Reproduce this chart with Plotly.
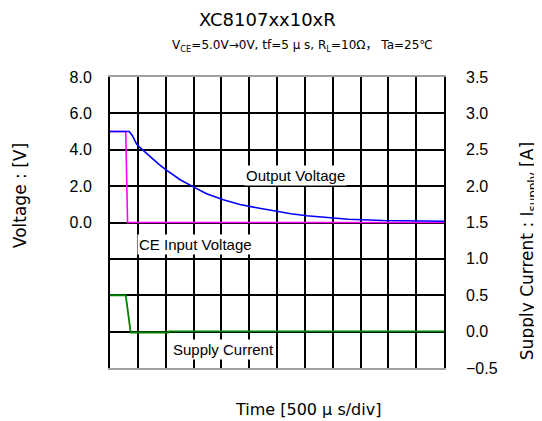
import plotly.graph_objects as go

# Time axis in microseconds (500 us/div, 12 divisions)
t_ce = [0, 282, 316, 6000]
v_ce = [5.0, 5.0, 0.0, 0.0]

t_out = [0, 345, 400, 480, 540, 660, 885, 1020, 1260, 1515, 1735, 2035, 2335,
         2635, 3000, 3250, 3535, 3830, 4280, 4910, 6000]
v_out = [5.0, 5.0, 4.79, 4.30, 4.12, 3.79, 3.18, 2.87, 2.35, 1.93, 1.58, 1.25,
         0.99, 0.81, 0.60, 0.48, 0.37, 0.28, 0.18, 0.11, 0.07]

t_cur = [0, 282, 372, 1050, 1060, 6000]
i_cur = [0.5, 0.5, -0.012, -0.012, 0.004, 0.004]

left_tickvals = [8, 6, 4, 2, 0]
left_ticktext = ["8.0", "6.0", "4.0", "2.0", "0.0"]
right_tickvals = [3.5, 3.0, 2.5, 2.0, 1.5, 1.0, 0.5, 0.0, -0.5]
right_ticktext = ["3.5", "3.0", "2.5", "2.0", "1.5", "1.0", "0.5", "0.0", "\u22120.5"]

FONT = "Liberation Sans, Arial, Noto Sans CJK JP, sans-serif"
DFONT = "DejaVu Sans, Noto Sans CJK JP, sans-serif"

fig = go.Figure()
fig.add_trace(go.Scatter(x=t_ce, y=v_ce, mode="lines", name="CE Input Voltage",
                         line=dict(color="#ff00ff", width=1.6), yaxis="y"))
fig.add_trace(go.Scatter(x=t_out, y=v_out, mode="lines", name="Output Voltage",
                         line=dict(color="#0000ff", width=1.6), yaxis="y"))
fig.add_trace(go.Scatter(x=t_cur, y=i_cur, mode="lines", name="Supply Current",
                         line=dict(color="#008000", width=1.8), yaxis="y2"))

# page body adds an 8px offset, so the figure is drawn 8px smaller
fig.update_layout(
    width=534, height=413,
    margin=dict(l=102, r=98, t=69, b=53, autoexpand=False),
    paper_bgcolor="white", plot_bgcolor="white",
    showlegend=False,
    font=dict(family=FONT, color="black", size=16),
    xaxis=dict(range=[0, 6000], dtick=500, tick0=0, showticklabels=False,
               showgrid=True, gridcolor="black", gridwidth=1.5,
               showline=True, linecolor="#a0a0a0", linewidth=2, mirror=True,
               zeroline=False, ticks=""),
    yaxis=dict(range=[-8, 8], tickmode="array", tickvals=left_tickvals,
               ticktext=left_ticktext, showgrid=True, gridcolor="black",
               gridwidth=1.6, showline=True, linecolor="black", linewidth=2,
               minor=dict(dtick=2, tick0=0, showgrid=True, gridcolor="black",
                          gridwidth=1.6, ticks=""),
               mirror=True, zeroline=False, ticks="", ticklabelstandoff=13,
               tickfont=dict(size=16)),
    yaxis2=dict(range=[-0.5, 3.5], tickmode="array", tickvals=right_tickvals,
                ticktext=right_ticktext, overlaying="y", side="right",
                showgrid=False, zeroline=False, showline=False, ticks="",
                ticklabelstandoff=21, tickfont=dict(size=16)),
)

fig.add_annotation(text="XC8107xx10xR", x=0.473, y=1.196, xref="paper", yref="paper",
                   xanchor="center", yanchor="middle", showarrow=False,
                   font=dict(size=18, family=DFONT))
fig.add_annotation(text="V<sub>CE</sub>=5.0V\u21920V, tf=5 \u03bc s, R<sub>L</sub>=10\u03a9\uff0c Ta=25\u2103",
                   x=0.575, y=1.107, xref="paper", yref="paper",
                   xanchor="center", yanchor="middle", showarrow=False,
                   font=dict(size=12, family=DFONT))
fig.add_annotation(text="Time [500 \u03bc s/div]", x=0.593, y=-0.144, xref="paper",
                   yref="paper", xanchor="center", yanchor="middle", showarrow=False,
                   font=dict(size=16, family=DFONT))
fig.add_annotation(text="Voltage : [V]", x=-0.269, y=0.591, xref="paper", yref="paper",
                   textangle=-90, showarrow=False, xanchor="center", yanchor="middle",
                   font=dict(size=17, family=DFONT))
fig.add_annotation(text="Supply Current : I<sub>supply</sub> [A]", x=1.252, y=0.402,
                   xref="paper", yref="paper", textangle=-90, showarrow=False,
                   xanchor="center", yanchor="middle", font=dict(size=17, family=DFONT))

labels = [
    ("Output Voltage", 0.554, 0.660),
    ("CE Input Voltage", 0.257, 0.423),
    ("Supply Current", 0.341, 0.062),
]
for txt, x, y in labels:
    fig.add_annotation(text=txt, x=x, y=y, xref="paper", yref="paper",
                       xanchor="center", yanchor="middle", showarrow=False,
                       bgcolor="white", borderpad=1,
                       font=dict(size=15, family=FONT))

fig.write_html("out.html")
